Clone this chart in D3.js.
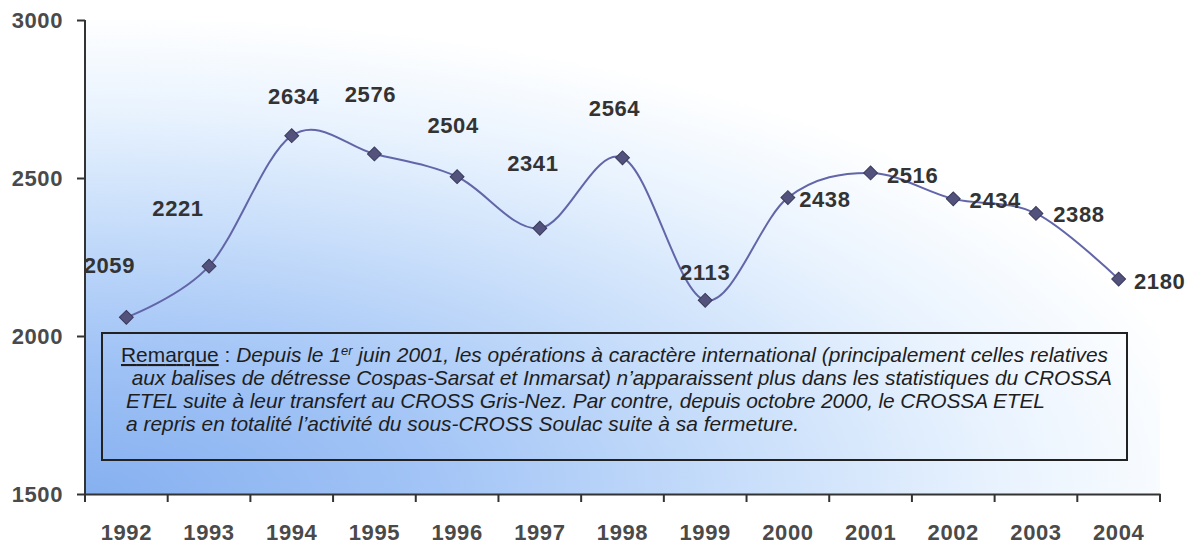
<!DOCTYPE html>
<html>
<head>
<meta charset="utf-8">
<script src="https://cdn.jsdelivr.net/npm/d3@7"></script>
<style>
  body { margin: 0; background: #fff; }
  svg { display: block; font-family: "Liberation Sans", Arial, sans-serif; }
</style>
</head>
<body>
<div id="chart"></div>
<script>
"use strict";

const years = ["1992","1993","1994","1995","1996","1997","1998","1999","2000","2001","2002","2003","2004"];
const values = [2059, 2221, 2634, 2576, 2504, 2341, 2564, 2113, 2438, 2516, 2434, 2388, 2180];
const yTicks = [1500, 2000, 2500, 3000];

// where each value label sits, relative to its marker (px)
const labelDx = [-17, -31, 2, -4, -4, -7, -8, 0, 37, 42, 42, 43, 41];
const labelDy = [-52, -58, -40, -60, -52, -65, -50, -28, 1, 2, 1, 1, 2];

const noteLines = [
  " aux balises de détresse Cospas-Sarsat et Inmarsat) n’apparaissent plus dans les statistiques du CROSSA",
  "ETEL suite à leur transfert au CROSS Gris-Nez. Par contre, depuis octobre 2000, le CROSSA ETEL",
  "a repris en totalité l’activité du sous-CROSS Soulac suite à sa fermeture."
];

const W = 1204, H = 550;
const mLeft = 85, mRight = 1160, mTop = 20, mBottom = 494;

const svg = d3.select("#chart").append("svg")
  .attr("width", W)
  .attr("height", H);

const x = d3.scaleBand().domain(years).range([mLeft, mRight]);
const y = d3.scaleLinear().domain([1500, 3000]).range([mBottom, mTop]);

// background gradient from bottom left corner
const defs = svg.append("defs");
const grad = defs.append("radialGradient")
  .attr("id", "bg")
  .attr("gradientUnits", "userSpaceOnUse")
  .attr("cx", 0).attr("cy", 0).attr("r", 1)
  .attr("gradientTransform", `translate(${mLeft},${mBottom}) scale(1150,480)`);
grad.append("stop").attr("offset", 0).attr("stop-color", "#86b0f0");
grad.append("stop").attr("offset", 0.3).attr("stop-color", "#a2c4f6");
grad.append("stop").attr("offset", 0.55).attr("stop-color", "#c5dcfa");
grad.append("stop").attr("offset", 0.8).attr("stop-color", "#e9f3fe");
grad.append("stop").attr("offset", 1).attr("stop-color", "#ffffff");

svg.append("rect")
  .attr("x", mLeft).attr("y", mTop)
  .attr("width", mRight - mLeft).attr("height", mBottom - mTop)
  .attr("fill", "url(#bg)");

// axes
const yAxis = svg.append("g")
  .attr("transform", `translate(${mLeft},0)`)
  .call(d3.axisLeft(y).tickValues(yTicks).tickFormat(d3.format("d"))
    .tickSize(8).tickPadding(14).tickSizeOuter(0));

const xAxis = svg.append("g")
  .attr("transform", `translate(0,${mBottom})`)
  .call(d3.axisBottom(x).tickSize(0).tickPadding(30).tickSizeOuter(0));

// x ticks between categories
xAxis.selectAll(".between")
  .data(years.concat(["end"]))
  .join("line")
  .attr("class", "between")
  .attr("x1", (d, i) => mLeft + i * x.step())
  .attr("x2", (d, i) => mLeft + i * x.step())
  .attr("y1", 0).attr("y2", 8);

[yAxis, xAxis].forEach(g => {
  g.selectAll(".domain, line").attr("stroke", "#333").attr("stroke-width", 2);
  g.selectAll("text")
    .attr("fill", "#4a4a4a")
    .style("font-size", "22px")
    .style("font-weight", "bold")
    .style("letter-spacing", "0.6px");
});
yAxis.select(".domain").attr("d", `M0,${mTop}V${mBottom}`);

// note box
const note = svg.append("g");
note.append("rect")
  .attr("x", 102).attr("y", 333)
  .attr("width", 1025).attr("height", 127)
  .attr("fill", "none")
  .attr("stroke", "#222")
  .attr("stroke-width", 2);

const first = note.append("text")
  .attr("x", 121).attr("y", 362)
  .attr("fill", "#1e1e1e")
  .style("font-size", "16px");
first.append("tspan").text("Remarque").style("text-decoration", "underline");
first.append("tspan").text(" : ");
first.append("tspan").style("font-style", "italic").text("Depuis le 1");
first.append("tspan").style("font-style", "italic").style("font-size", "10px")
  .attr("dy", -7).text("er");
first.append("tspan").style("font-style", "italic").attr("dy", 7)
  .text(" juin 2001, les opérations à caractère international (principalement celles relatives");

const rest = note.selectAll(".line")
  .data(noteLines)
  .join("text")
  .attr("class", "line")
  .attr("x", 126)
  .attr("y", (d, i) => 385 + i * 23)
  .attr("fill", "#1e1e1e")
  .style("font-size", "16px")
  .style("font-style", "italic")
  .style("white-space", "pre")
  .text(d => d);

// fit line widths to the scan
const targetLen = [987, 986, 919, 673];
const natural = first.node().getComputedTextLength();
const fs = 16 * targetLen[0] / natural;
first.style("font-size", fs + "px");
first.selectAll("tspan").filter((d, i) => i === 3).style("font-size", (fs * 0.62) + "px");
rest.style("font-size", fs + "px");
first.attr("textLength", targetLen[0]).attr("lengthAdjust", "spacing");
rest.attr("textLength", (d, i) => targetLen[i + 1]).attr("lengthAdjust", "spacing");

// line
const cx = (d, i) => x(years[i]) + x.bandwidth() / 2;
const line = d3.line()
  .x(cx)
  .y(d => y(d))
  .curve(d3.curveCardinal.tension(0));

svg.append("path")
  .datum(values)
  .attr("d", line)
  .attr("fill", "none")
  .attr("stroke", "#6266a8")
  .attr("stroke-width", 2);

svg.append("g")
  .selectAll("path")
  .data(values)
  .join("path")
  .attr("d", d3.symbol(d3.symbolSquare, 96))
  .attr("transform", (d, i) => `translate(${cx(d, i)},${y(d)}) rotate(45)`)
  .attr("fill", "#52527c")
  .attr("stroke", "#3a3a5c")
  .attr("stroke-width", 1);

svg.append("g")
  .selectAll("text")
  .data(values)
  .join("text")
  .attr("x", (d, i) => cx(d, i) + labelDx[i])
  .attr("y", (d, i) => y(d) + labelDy[i])
  .attr("text-anchor", "middle")
  .attr("dy", "0.36em")
  .attr("fill", "#333")
  .style("font-size", "22px")
  .style("font-weight", "bold")
  .style("letter-spacing", "0.6px")
  .text(d => d);
</script>
</body>
</html>
